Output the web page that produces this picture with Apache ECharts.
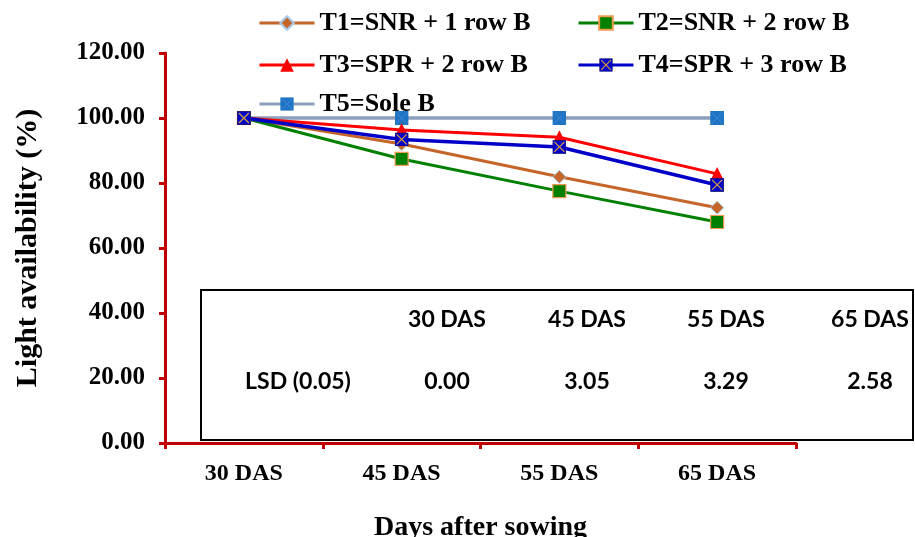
<!DOCTYPE html>
<html>
<head>
<meta charset="utf-8">
<script src="https://cdn.jsdelivr.net/npm/echarts@6/dist/echarts.min.js"></script>
<style>
  html, body { margin: 0; padding: 0; background: #fff; }
  #chart { width: 915px; height: 537px; }
</style>
</head>
<body>
<div id="chart"></div>
<script>
// Sampling stages on the x axis
const categories = ['30 DAS', '45 DAS', '55 DAS', '65 DAS'];

// Light availability (%) per treatment
const t1 = [100, 92.0, 81.9, 72.4];
const t2 = [100, 87.4, 77.5, 68.0];
const t3 = [100, 96.3, 94.1, 82.8];
const t4 = [100, 93.4, 91.1, 79.4];
const t5 = [100, 100, 100, 100];

const seriesNames = [
  'T1=SNR + 1 row B',
  'T2=SNR + 2 row B',
  'T3=SPR + 2 row B',
  'T4=SPR + 3 row B',
  'T5=Sole B'
];

// LSD table shown inside the plot
const lsdHeaders = ['30 DAS', '45 DAS', '55 DAS', '65 DAS'];
const lsdLabel = 'LSD (0.05)';
const lsdValues = ['0.00', '3.05', '3.29', '2.58'];

const serif = '"Liberation Serif", "Times New Roman", serif';
const sans = 'Lato, "Open Sans", sans-serif';

function svgSymbol(svg) {
  return 'image://data:image/svg+xml;charset=utf-8,' + encodeURIComponent(svg);
}
const crossSquare = svgSymbol(
  "<svg xmlns='http://www.w3.org/2000/svg' width='28' height='28'>" +
  "<rect x='1' y='1' width='26' height='26' fill='#0000C8' stroke='#101070' stroke-width='1.5'/>" +
  "<path d='M4 4L24 24M24 4L4 24' stroke='#D8A040' stroke-width='2.4'/></svg>");
const soleSquare = svgSymbol(
  "<svg xmlns='http://www.w3.org/2000/svg' width='28' height='28'>" +
  "<rect x='0' y='0' width='28' height='28' fill='#1F74C4'/>" +
  "<path d='M3 3L25 25M25 3L3 25' stroke='#4A8ED4' stroke-width='1.5'/></svg>");

const chart = echarts.init(document.getElementById('chart'), null, { renderer: 'canvas' });

function legendAt(name, left, top) {
  return {
    data: [name],
    left: left,
    top: top,
    itemWidth: 55,
    itemHeight: 17,
    itemGap: 0,
    selectedMode: false,
    lineStyle: { width: 3 },
    textStyle: { fontFamily: serif, fontWeight: 'bold', fontSize: 26, color: '#000' }
  };
}

const lineBase = { type: 'line', symbolKeepAspect: true, z: 3 };

const option = {
  animation: false,
  backgroundColor: '#fff',
  grid: {
    left: 165, right: 119, top: 53, bottom: 94,
    containLabel: false,
    outerBoundsMode: 'none'
  },
  legend: [
    legendAt(seriesNames[0], 253, 5),
    legendAt(seriesNames[1], 572, 5),
    legendAt(seriesNames[2], 253, 47),
    legendAt(seriesNames[3], 572, 47),
    legendAt(seriesNames[4], 253, 86)
  ],
  xAxis: {
    type: 'category',
    data: categories,
    boundaryGap: true,
    axisLine: { lineStyle: { color: '#C00000', width: 3 } },
    axisTick: { show: true, length: 6, lineStyle: { color: '#C00000', width: 3 } },
    axisLabel: { margin: 19, fontFamily: serif, fontWeight: 'bold', fontSize: 24, color: '#000' },
    name: 'Days after sowing',
    nameLocation: 'middle',
    nameGap: 71,
    nameTextStyle: { fontFamily: serif, fontWeight: 'bold', fontSize: 28, color: '#000' }
  },
  yAxis: {
    type: 'value',
    min: 0,
    max: 120,
    interval: 20,
    axisLine: { show: true, lineStyle: { color: '#C00000', width: 3 } },
    axisTick: { show: true, length: 6, lineStyle: { color: '#C00000', width: 3 } },
    splitLine: { show: false },
    axisLabel: {
      margin: 20,
      fontFamily: serif, fontWeight: 'bold', fontSize: 25, color: '#000',
      formatter: v => v.toFixed(2)
    },
    name: 'Light availability (%)',
    nameLocation: 'middle',
    nameGap: 122,
    nameTextStyle: { fontFamily: serif, fontWeight: 'bold', fontSize: 30, color: '#000' }
  },
  series: [
    Object.assign({}, lineBase, {
      name: seriesNames[0], data: t1,
      symbol: 'diamond', symbolSize: 13,
      lineStyle: { color: '#C5652A', width: 3 },
      itemStyle: { color: '#C5652A', borderColor: '#A8C8E8', borderWidth: 1 }
    }),
    Object.assign({}, lineBase, {
      name: seriesNames[1], data: t2,
      symbol: 'rect', symbolSize: 13,
      lineStyle: { color: '#008000', width: 3 },
      itemStyle: { color: '#008000', borderColor: '#F09A50', borderWidth: 1.2 }
    }),
    Object.assign({}, lineBase, {
      name: seriesNames[2], data: t3,
      symbol: 'triangle', symbolSize: 14,
      lineStyle: { color: '#FF0000', width: 3 },
      itemStyle: { color: '#FF0000' }
    }),
    Object.assign({}, lineBase, {
      name: seriesNames[3], data: t4,
      symbol: crossSquare, symbolSize: 14,
      lineStyle: { color: '#0000C8', width: 3.5 },
      itemStyle: { color: '#0000C8' }
    }),
    Object.assign({}, lineBase, {
      name: seriesNames[4], data: t5,
      symbol: soleSquare, symbolSize: 14,
      lineStyle: { color: '#8A9FBC', width: 3.5 },
      itemStyle: { color: '#1F74C4' },
      z: 2
    })
  ],
  graphic: []
};

chart.setOption(option);

// LSD table: bordered box with a header row and one value row
function drawTable() {
  const g = [];
  const boxTop = 290, boxBottom = 440, boxLeft = 201, boxRight = 913;
  g.push({
    type: 'rect',
    shape: { x: boxLeft, y: boxTop, width: boxRight - boxLeft, height: boxBottom - boxTop },
    style: { fill: '#fff', stroke: '#000', lineWidth: 2 },
    z: 1
  });
  const colX = [447, 587, 726, 870];
  const headerY = 320, rowY = 382;
  const font = 'bold 23px ' + sans;
  lsdHeaders.forEach((h, i) => {
    g.push({ type: 'text', x: colX[i], y: headerY, z: 2,
      style: { text: h, font: font, fill: '#000', textAlign: 'center', textVerticalAlign: 'middle' } });
  });
  g.push({ type: 'text', x: 298, y: rowY, z: 2,
    style: { text: lsdLabel, font: font, fill: '#000', textAlign: 'center', textVerticalAlign: 'middle' } });
  lsdValues.forEach((v, i) => {
    g.push({ type: 'text', x: colX[i], y: rowY, z: 2,
      style: { text: v, font: font, fill: '#000', textAlign: 'center', textVerticalAlign: 'middle' } });
  });
  chart.setOption({ graphic: g });
}
drawTable();
</script>
</body>
</html>
